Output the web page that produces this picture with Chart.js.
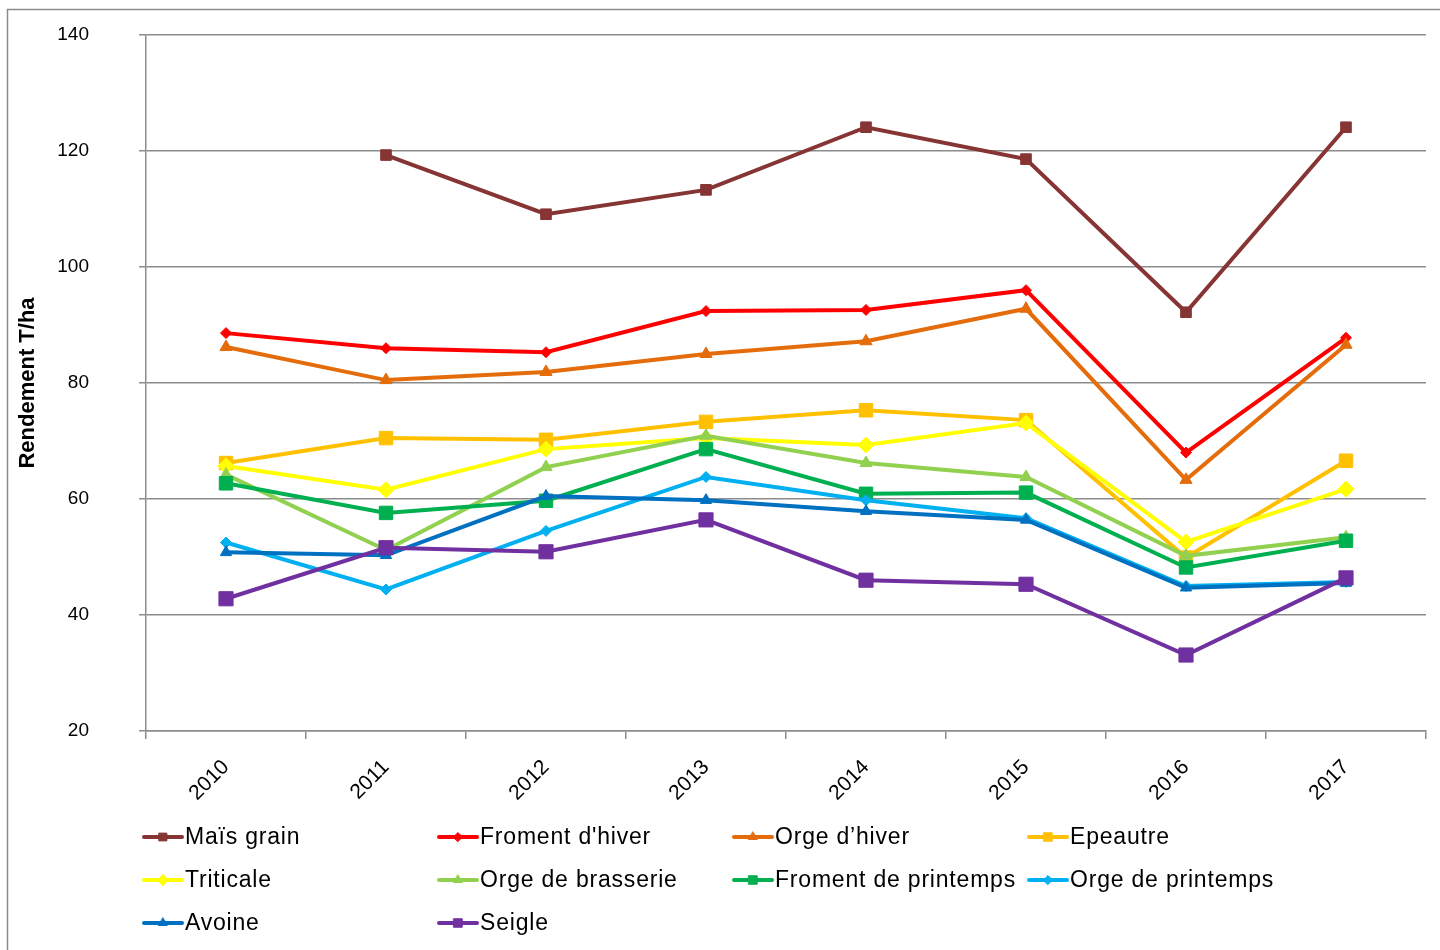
<!DOCTYPE html>
<html lang="fr">
<head>
<meta charset="utf-8">
<title>Rendement T/ha 2010-2017</title>
<script src="https://cdn.jsdelivr.net/npm/chart.js@4/dist/chart.umd.min.js"></script>
<style>
  html, body { margin: 0; padding: 0; background: #fff; }
  #wrap { width: 1440px; height: 950px; }
</style>
</head>
<body>
<div id="wrap"><canvas id="rendement" width="1440" height="950"></canvas></div>
<script>
// Années et rendements par culture
const annees = ['2010', '2011', '2012', '2013', '2014', '2015', '2016', '2017'];

const maisGrain          = [null, 119.3, 109.1, 113.3, 124.1, 118.6, 92.2, 124.1];
const fromentHiver       = [88.6, 86.0, 85.3, 92.4, 92.6, 96.0, 68.0, 87.8];
const orgeHiver          = [86.2, 80.5, 81.9, 85.0, 87.2, 92.8, 63.3, 86.6];
const epeautre           = [66.2, 70.5, 70.2, 73.3, 75.3, 73.6, 49.9, 66.6];
const triticale          = [65.7, 61.6, 68.6, 70.5, 69.3, 73.1, 52.6, 61.7];
const orgeBrasserie      = [64.2, 51.2, 65.5, 70.9, 66.2, 63.8, 50.2, 53.4];
const fromentPrintemps   = [62.7, 57.6, 59.7, 68.6, 60.9, 61.1, 48.2, 52.8];
const orgePrintemps      = [52.5, 44.4, 54.5, 63.8, 59.8, 56.7, 45.0, 45.7];
const avoine             = [50.8, 50.3, 60.5, 59.8, 57.9, 56.4, 44.7, 45.5];
const seigle             = [42.8, 51.6, 50.9, 56.4, 46.0, 45.3, 33.1, 46.4];

const yTicks = [20, 40, 60, 80, 100, 120, 140];

const FONT = "'Liberation Sans', Arial, sans-serif";

const series = [
  { label: 'Maïs grain',           data: maisGrain,        color: '#863434', style: 'rect',     r: 7.5, lr: 5.5 },
  { label: "Froment d'hiver",      data: fromentHiver,     color: '#FF0000', style: 'rectRot',  r: 5.5, lr: 4.5 },
  { label: 'Orge d\u2019hiver',    data: orgeHiver,        color: '#E46C0A', style: 'triangle', r: 7,   lr: 5 },
  { label: 'Epeautre',             data: epeautre,         color: '#FFC000', style: 'rect',     r: 9.5, lr: 6 },
  { label: 'Triticale',            data: triticale,        color: '#FFFF00', style: 'rectRot',  r: 8,   lr: 5.5 },
  { label: 'Orge de brasserie',    data: orgeBrasserie,    color: '#92D050', style: 'triangle', r: 7,   lr: 5 },
  { label: 'Froment de printemps', data: fromentPrintemps, color: '#00B050', style: 'rect',     r: 9.5, lr: 6 },
  { label: 'Orge de printemps',    data: orgePrintemps,    color: '#00B0F0', style: 'rectRot',  r: 5.5, lr: 4.5 },
  { label: 'Avoine',               data: avoine,           color: '#0070C0', style: 'triangle', r: 6.5, lr: 5 },
  { label: 'Seigle',               data: seigle,           color: '#7030A0', style: 'rect',     r: 10,  lr: 6 }
];

// fond blanc + cadre gris (seuls les bords haut et gauche sont visibles)
const cadre = {
  id: 'cadre',
  beforeDraw(chart) {
    const ctx = chart.ctx;
    ctx.save();
    ctx.fillStyle = '#fff';
    ctx.fillRect(0, 0, chart.width, chart.height);
    ctx.strokeStyle = '#8c8c8c';
    ctx.lineWidth = 1.5;
    ctx.strokeRect(7.5, 9.5, chart.width + 20, chart.height + 20);
    ctx.restore();
  }
};

// légende en grille de 4 colonnes sous l'axe des années
const legendeGrille = {
  id: 'legendeGrille',
  afterDraw(chart) {
    const ctx = chart.ctx;
    const x0 = 142, colW = 295, y0 = 837, rowH = 43;
    ctx.save();
    ctx.font = '23px ' + FONT;
    if ('letterSpacing' in ctx) ctx.letterSpacing = '0.8px';
    ctx.textBaseline = 'middle';
    ctx.textAlign = 'left';
    series.forEach((s, i) => {
      const x = x0 + (i % 4) * colW;
      const y = y0 + Math.floor(i / 4) * rowH;
      ctx.strokeStyle = s.color;
      ctx.lineWidth = 4;
      ctx.lineCap = 'round';
      ctx.beginPath();
      ctx.moveTo(x + 2, y);
      ctx.lineTo(x + 40, y);
      ctx.stroke();
      ctx.fillStyle = s.color;
      ctx.lineWidth = 1;
      Chart.helpers.drawPoint(ctx, { pointStyle: s.style, radius: s.lr, rotation: 0, borderWidth: 1 }, x + 21, y);
      ctx.fillStyle = '#000';
      ctx.fillText(s.label, x + 43, y + 1);
    });
    ctx.restore();
  }
};

new Chart(document.getElementById('rendement'), {
  type: 'line',
  data: {
    labels: annees,
    datasets: series.map((s, i) => ({
      label: s.label,
      data: s.data,
      borderColor: s.color,
      backgroundColor: s.color,
      pointBackgroundColor: s.color,
      pointBorderColor: s.color,
      pointStyle: s.style,
      pointRadius: s.r,
      pointBorderWidth: 1,
      borderWidth: 4,
      tension: 0,
      order: series.length - i
    }))
  },
  options: {
    responsive: false,
    animation: false,
    devicePixelRatio: 1,
    layout: { padding: { top: 35, right: 14, bottom: 0, left: 0 } },
    plugins: {
      legend: { display: false },
      tooltip: { enabled: false }
    },
    scales: {
      x: {
        offset: true,
        grid: { offset: true, drawOnChartArea: false, tickLength: 8, color: '#8c8c8c', lineWidth: 1.5 },
        border: { color: '#8c8c8c', width: 1.5 },
        ticks: {
          color: '#000',
          font: { family: FONT, size: 21 },
          minRotation: 45,
          maxRotation: 45,
          padding: 16
        },
        afterFit(scale) { scale.height = 219; }
      },
      y: {
        min: 20,
        max: 140,
        afterBuildTicks(scale) { scale.ticks = yTicks.map(v => ({ value: v })); },
        grid: { color: '#8c8c8c', lineWidth: 1.5, tickLength: 7 },
        border: { color: '#8c8c8c', width: 1.5 },
        ticks: {
          color: '#000',
          font: { family: FONT, size: 19 },
          padding: 50
        },
        title: {
          display: true,
          text: 'Rendement T/ha',
          color: '#000',
          font: { family: FONT, size: 22, weight: 'bold' },
          padding: { top: 15, bottom: 0 }
        },
        // largeur fixe ; la marge des étiquettes ne doit pas rogner la zone du graphique
        afterFit(scale) {
          scale.width = 146;
          scale.paddingTop = 0;
          scale.paddingBottom = 0;
        }
      }
    }
  },
  plugins: [cadre, legendeGrille]
});
</script>
</body>
</html>
